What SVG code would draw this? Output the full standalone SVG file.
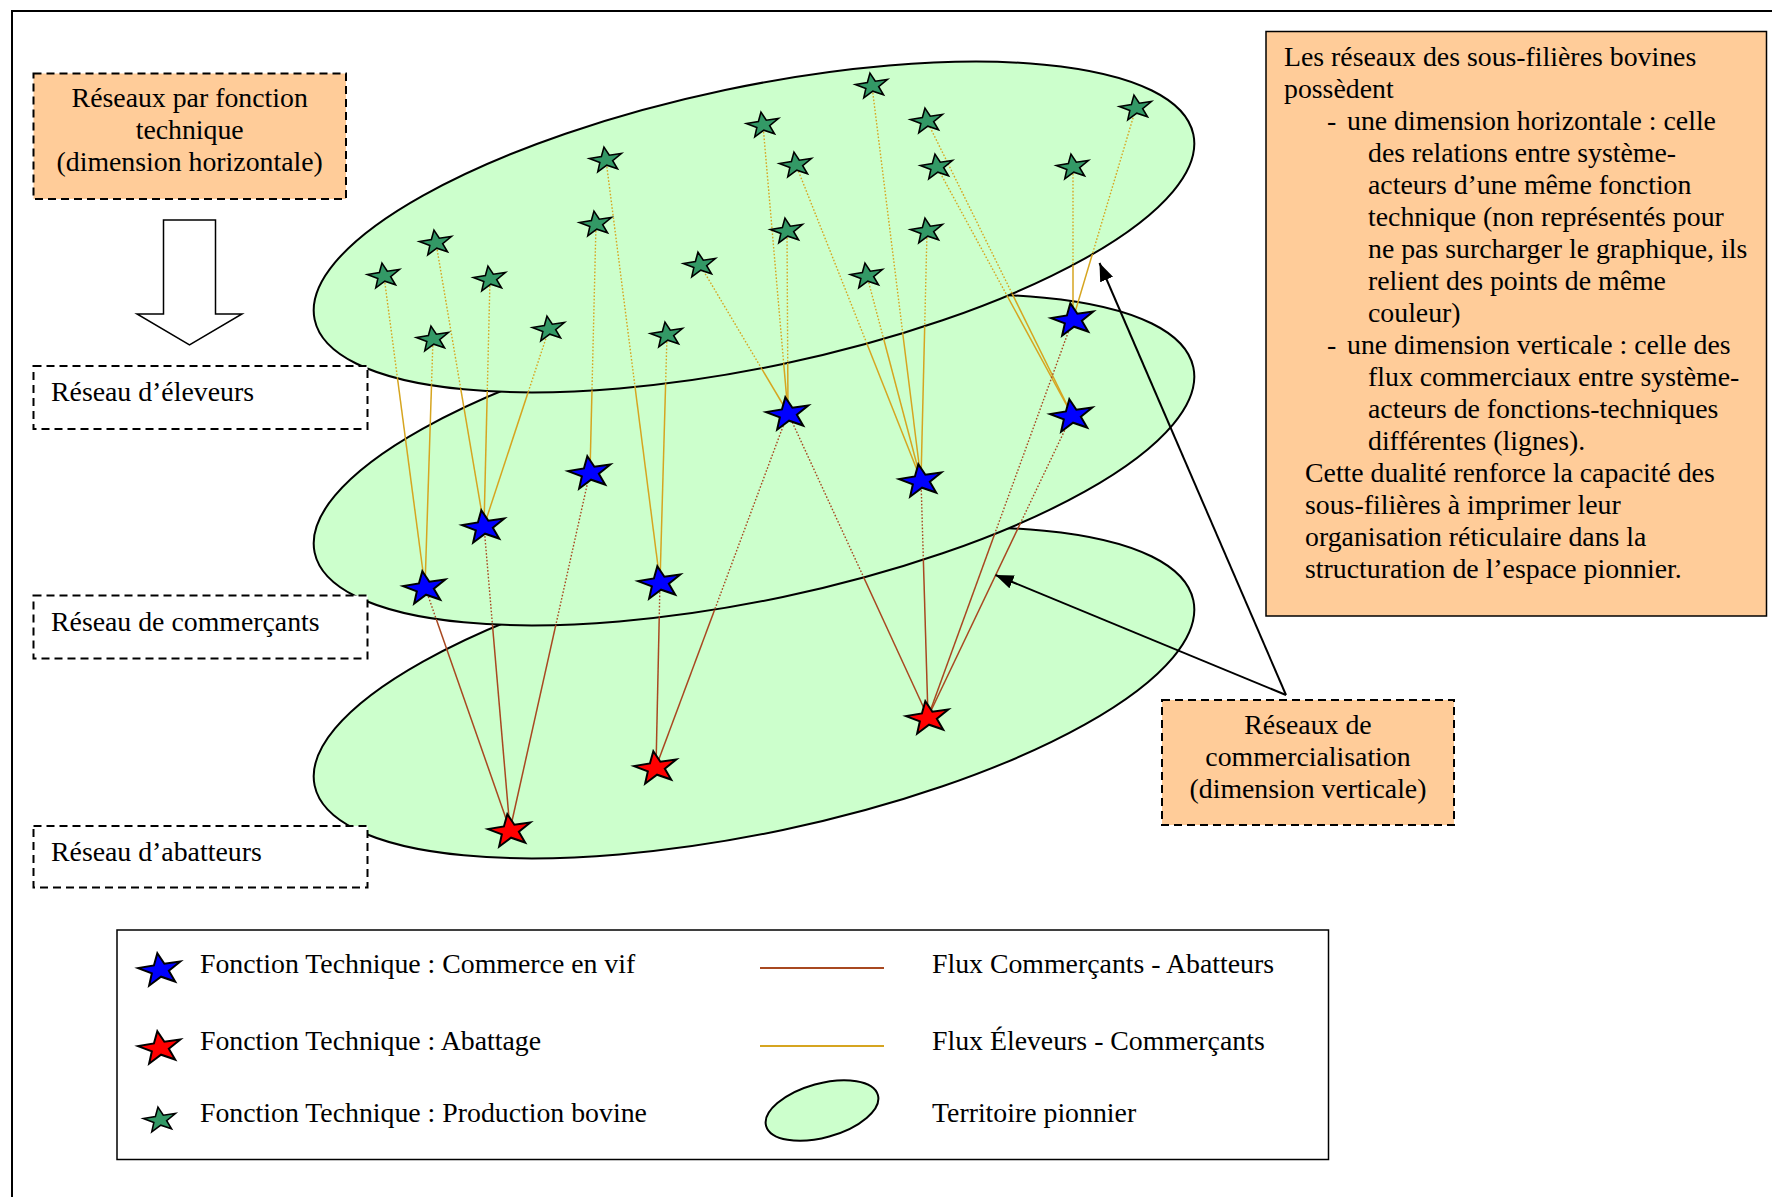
<svg xmlns="http://www.w3.org/2000/svg" width="1772" height="1197" viewBox="0 0 1772 1197">
<style>
text { font-family: "Liberation Serif", "Times New Roman", serif; font-size: 27.8px; fill: #000; }
.mid { text-anchor: middle; }
.dash { fill: #fff; stroke: #000; stroke-width: 2; stroke-dasharray: 8 5; }
.peach { fill: #FFCC99; }
.terr { fill: #CCFFCC; stroke: #000; stroke-width: 2; }
.ec { stroke: #D6A520; fill: none; }
.ca { stroke: #A84820; fill: none; }
.solid { stroke-width: 1.5; }
.dotted { stroke-width: 1.4; stroke-dasharray: 1.6 1.8; }
.gstar { fill: #339966; stroke: #000; stroke-width: 1.6; }
.bstar { fill: #0000FF; stroke: #000; stroke-width: 2; }
.rstar { fill: #FF0000; stroke: #000; stroke-width: 2; }
.arrow { stroke: #000; stroke-width: 2; fill: none; marker-end: url(#ah); }
</style>
<defs>
  <path id="sg" d="M0,-13 L4,-4.2 L16.2,-4 L6.5,1.6 L10,10.5 L0,5.2 L-10,10.5 L-6.5,1.6 L-16.2,-4 L-4,-4.2 Z"/>
  <path id="sb" d="M0,-17 L5.3,-5.5 L21.4,-5.3 L8.6,2.1 L13.2,13.8 L0,6.8 L-13.2,13.8 L-8.6,2.1 L-21.4,-5.3 L-5.3,-5.5 Z"/>
  <marker id="ah" viewBox="0 0 18 14" refX="18" refY="7" markerWidth="18" markerHeight="14" markerUnits="userSpaceOnUse" orient="auto">
    <path d="M0,0 L18,7 L0,14 Z" fill="#000"/>
  </marker>
  <clipPath id="inTop" clipPathUnits="userSpaceOnUse">
    <ellipse cx="754" cy="227" rx="449" ry="140" transform="rotate(-11.9 754 227)"/>
  </clipPath>
  <clipPath id="inMid" clipPathUnits="userSpaceOnUse">
    <ellipse cx="754" cy="460" rx="449" ry="140" transform="rotate(-11.9 754 460)"/>
  </clipPath>
  <mask id="outTop" maskUnits="userSpaceOnUse" x="0" y="0" width="1772" height="1197">
    <rect x="0" y="0" width="1772" height="1197" fill="#fff"/>
    <ellipse cx="754" cy="227" rx="449" ry="140" transform="rotate(-11.9 754 227)" fill="#000"/>
  </mask>
  <mask id="outMid" maskUnits="userSpaceOnUse" x="0" y="0" width="1772" height="1197">
    <rect x="0" y="0" width="1772" height="1197" fill="#fff"/>
    <ellipse cx="754" cy="460" rx="449" ry="140" transform="rotate(-11.9 754 460)" fill="#000"/>
  </mask>
  <g id="ecLines">
    <line x1="384" y1="276" x2="425" y2="587"/>
    <line x1="433" y1="339" x2="425" y2="587"/>
    <line x1="436" y1="243" x2="484" y2="526"/>
    <line x1="490" y1="279" x2="484" y2="526"/>
    <line x1="549" y1="329" x2="484" y2="526"/>
    <line x1="596" y1="224" x2="590" y2="472"/>
    <line x1="606" y1="160" x2="660" y2="582"/>
    <line x1="667" y1="335" x2="660" y2="582"/>
    <line x1="700" y1="265" x2="788" y2="413"/>
    <line x1="763" y1="125" x2="788" y2="413"/>
    <line x1="787" y1="231" x2="788" y2="413"/>
    <line x1="796" y1="165" x2="921" y2="480"/>
    <line x1="872" y1="86" x2="921" y2="480"/>
    <line x1="867" y1="276" x2="921" y2="480"/>
    <line x1="927" y1="231" x2="921" y2="480"/>
    <line x1="927" y1="121" x2="1072" y2="415"/>
    <line x1="937" y1="167" x2="1072" y2="415"/>
    <line x1="1073" y1="167" x2="1073" y2="319"/>
    <line x1="1136" y1="108" x2="1073" y2="319"/>
  </g>
  <g id="caLines">
    <line x1="425" y1="587" x2="510" y2="830"/>
    <line x1="484" y1="526" x2="510" y2="830"/>
    <line x1="590" y1="472" x2="510" y2="830"/>
    <line x1="660" y1="582" x2="656" y2="767"/>
    <line x1="788" y1="413" x2="656" y2="767"/>
    <line x1="788" y1="413" x2="928" y2="717"/>
    <line x1="921" y1="480" x2="928" y2="717"/>
    <line x1="1072" y1="415" x2="928" y2="717"/>
    <line x1="1073" y1="319" x2="928" y2="717"/>
  </g>
</defs>

<rect width="1772" height="1197" fill="#fff"/>
<path d="M12,1197 V11 H1772" fill="none" stroke="#000" stroke-width="2"/>

<g id="territoires">
  <ellipse id="territoire-abatteurs" class="terr" cx="754" cy="693" rx="449" ry="140" transform="rotate(-11.9 754 693)"/>
  <ellipse id="territoire-commercants" class="terr" cx="754" cy="460" rx="449" ry="140" transform="rotate(-11.9 754 460)"/>
  <ellipse id="territoire-eleveurs" class="terr" cx="754" cy="227" rx="449" ry="140" transform="rotate(-11.9 754 227)"/>
</g>

<g id="connectors">
  <use href="#ecLines" class="ec dotted" clip-path="url(#inTop)"/>
  <use href="#ecLines" class="ec solid" mask="url(#outTop)"/>
  <use href="#caLines" class="ca dotted" clip-path="url(#inMid)"/>
  <use href="#caLines" class="ca solid" mask="url(#outMid)"/>
  <line class="arrow" x1="1286" y1="695" x2="1099.5" y2="263"/>
  <line class="arrow" x1="1286" y1="695" x2="995.5" y2="575"/>
</g>

<g id="eleveurs">
  <use href="#sg" class="gstar" transform="translate(872 86) rotate(-9)"/>
  <use href="#sg" class="gstar" transform="translate(1136 108) rotate(-9)"/>
  <use href="#sg" class="gstar" transform="translate(763 125) rotate(-9)"/>
  <use href="#sg" class="gstar" transform="translate(927 121) rotate(-9)"/>
  <use href="#sg" class="gstar" transform="translate(606 160) rotate(-9)"/>
  <use href="#sg" class="gstar" transform="translate(796 165) rotate(-9)"/>
  <use href="#sg" class="gstar" transform="translate(937 167) rotate(-9)"/>
  <use href="#sg" class="gstar" transform="translate(1073 167) rotate(-9)"/>
  <use href="#sg" class="gstar" transform="translate(596 224) rotate(-9)"/>
  <use href="#sg" class="gstar" transform="translate(787 231) rotate(-9)"/>
  <use href="#sg" class="gstar" transform="translate(927 231) rotate(-9)"/>
  <use href="#sg" class="gstar" transform="translate(436 243) rotate(-9)"/>
  <use href="#sg" class="gstar" transform="translate(700 265) rotate(-9)"/>
  <use href="#sg" class="gstar" transform="translate(384 276) rotate(-9)"/>
  <use href="#sg" class="gstar" transform="translate(490 279) rotate(-9)"/>
  <use href="#sg" class="gstar" transform="translate(867 276) rotate(-9)"/>
  <use href="#sg" class="gstar" transform="translate(433 339) rotate(-9)"/>
  <use href="#sg" class="gstar" transform="translate(549 329) rotate(-9)"/>
  <use href="#sg" class="gstar" transform="translate(667 335) rotate(-9)"/>
</g>

<g id="commercants">
  <use href="#sb" class="bstar" transform="translate(1073 320) rotate(-9)"/>
  <use href="#sb" class="bstar" transform="translate(788 414) rotate(-9)"/>
  <use href="#sb" class="bstar" transform="translate(1072 416) rotate(-9)"/>
  <use href="#sb" class="bstar" transform="translate(590 473) rotate(-9)"/>
  <use href="#sb" class="bstar" transform="translate(921 481) rotate(-9)"/>
  <use href="#sb" class="bstar" transform="translate(484 527) rotate(-9)"/>
  <use href="#sb" class="bstar" transform="translate(425 588) rotate(-9)"/>
  <use href="#sb" class="bstar" transform="translate(660 583) rotate(-9)"/>
</g>

<g id="abatteurs">
  <use href="#sb" class="rstar" transform="translate(928 718) rotate(-9)"/>
  <use href="#sb" class="rstar" transform="translate(656 768) rotate(-9)"/>
  <use href="#sb" class="rstar" transform="translate(510 831) rotate(-9)"/>
</g>

<g id="box-horizontale">
  <rect class="dash peach" x="33.5" y="73.5" width="312.5" height="125.5"/>
  <text class="mid" x="189.7" y="107">Réseaux par fonction</text>
  <text class="mid" x="189.7" y="139">technique</text>
  <text class="mid" x="189.7" y="171">(dimension horizontale)</text>
</g>

<g id="block-arrow">
  <polygon points="163.5,220 215.5,220 215.5,314 242,314 189.5,345 137,314 163.5,314" fill="#fff" stroke="#000" stroke-width="1.5"/>
</g>

<g id="label-eleveurs">
  <rect class="dash" x="33.5" y="366" width="334" height="63"/>
  <text x="51" y="401">Réseau d’éleveurs</text>
</g>
<g id="label-commercants">
  <rect class="dash" x="33.5" y="595.5" width="334" height="63"/>
  <text x="51" y="631">Réseau de commerçants</text>
</g>
<g id="label-abatteurs">
  <rect class="dash" x="33.5" y="826" width="334" height="61.5"/>
  <text x="51" y="861">Réseau d’abatteurs</text>
</g>

<g id="box-verticale">
  <rect class="dash peach" x="1162" y="700" width="292" height="125"/>
  <text class="mid" x="1308" y="734">Réseaux de</text>
  <text class="mid" x="1308" y="766">commercialisation</text>
  <text class="mid" x="1308" y="798">(dimension verticale)</text>
</g>

<g id="box-explication">
  <rect x="1266" y="31.5" width="500.5" height="584.5" fill="#FFCC99" stroke="#000" stroke-width="1.5"/>
  <text x="1284" y="66">Les réseaux des sous-filières bovines</text>
  <text x="1284" y="98">possèdent</text>
  <text y="130"><tspan x="1327">-</tspan><tspan x="1347">une dimension horizontale : celle</tspan></text>
  <text x="1368" y="162">des relations entre système-</text>
  <text x="1368" y="194">acteurs d’une même fonction</text>
  <text x="1368" y="226">technique (non représentés pour</text>
  <text x="1368" y="258">ne pas surcharger le graphique, ils</text>
  <text x="1368" y="290">relient des points de même</text>
  <text x="1368" y="322">couleur)</text>
  <text y="354"><tspan x="1327">-</tspan><tspan x="1347">une dimension verticale : celle des</tspan></text>
  <text x="1368" y="386">flux commerciaux entre système-</text>
  <text x="1368" y="418">acteurs de fonctions-techniques</text>
  <text x="1368" y="450">différentes (lignes).</text>
  <text x="1305" y="482">Cette dualité renforce la capacité des</text>
  <text x="1305" y="514">sous-filières à imprimer leur</text>
  <text x="1305" y="546">organisation réticulaire dans la</text>
  <text x="1305" y="578">structuration de l’espace pionnier.</text>
</g>

<g id="legende">
  <rect x="117" y="930" width="1211.5" height="229.5" fill="#fff" stroke="#000" stroke-width="1.5"/>
  <use href="#sb" class="bstar" transform="translate(160 970) rotate(-9)"/>
  <use href="#sb" class="rstar" transform="translate(160 1048) rotate(-9)"/>
  <use href="#sg" class="gstar" transform="translate(160 1120) rotate(-9)"/>
  <text x="200" y="973">Fonction Technique : Commerce en vif</text>
  <text x="200" y="1050">Fonction Technique : Abattage</text>
  <text x="200" y="1122">Fonction Technique : Production bovine</text>
  <line x1="760" y1="968" x2="884" y2="968" stroke="#A84820" stroke-width="2"/>
  <line x1="760" y1="1046" x2="884" y2="1046" stroke="#D6A520" stroke-width="2"/>
  <ellipse class="terr" cx="822" cy="1110.5" rx="58" ry="27" transform="rotate(-15.5 822 1110.5)"/>
  <text x="932" y="973">Flux Commerçants - Abatteurs</text>
  <text x="932" y="1050">Flux Éleveurs - Commerçants</text>
  <text x="932" y="1122">Territoire pionnier</text>
</g>
</svg>
